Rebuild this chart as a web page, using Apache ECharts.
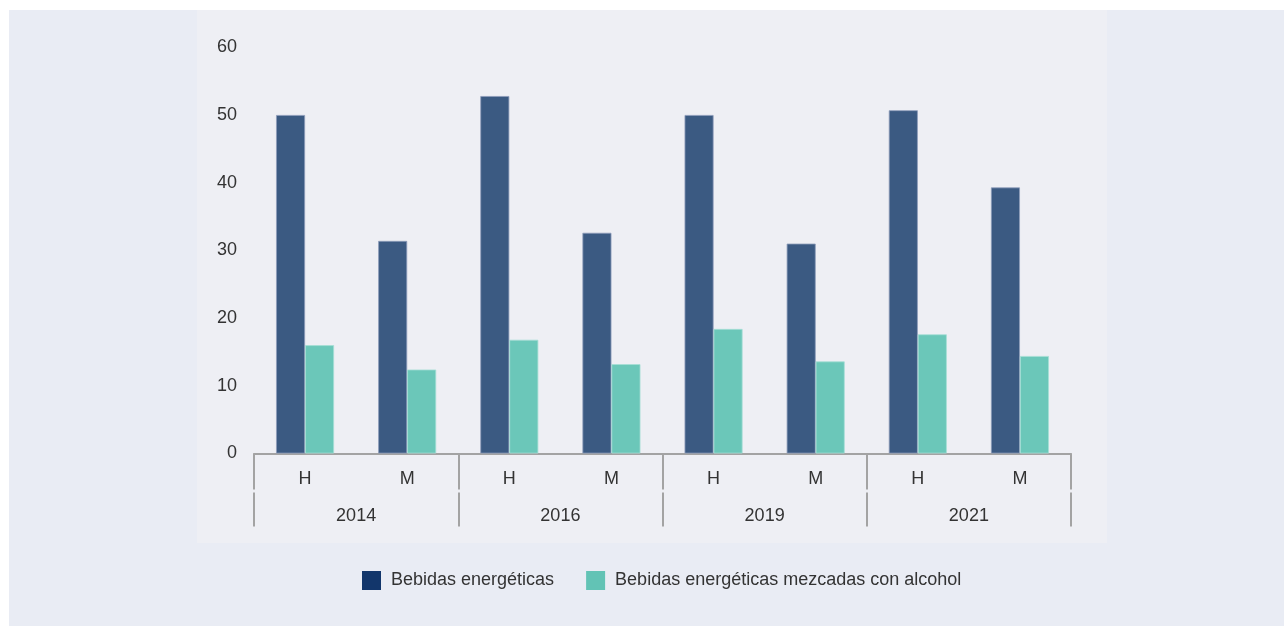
<!DOCTYPE html>
<html>
<head>
<meta charset="utf-8">
<script src="https://cdn.jsdelivr.net/npm/echarts@6/dist/echarts.min.js"></script>
<style>
html,body{margin:0;padding:0;background:#ffffff;}
#chart{width:1284px;height:626px;}
</style>
</head>
<body>
<div id="chart"></div>
<script>
const sexes = ['H','M','H','M','H','M','H','M'];
const years = ['2014','2016','2019','2021'];
const yTicks = [0,10,20,30,40,50,60];
const energeticas = [50.0, 31.4, 52.8, 32.6, 50.0, 31.0, 50.7, 39.3];
const mezcladas = [16.0, 12.4, 16.8, 13.2, 18.4, 13.6, 17.6, 14.4];
const seriesNames = ['Bebidas energéticas','Bebidas energéticas mezcadas con alcohol'];

const chart = echarts.init(document.getElementById('chart'), null, {renderer:'canvas'});
const textColor = '#333333';
const font = 'Liberation Sans, Arial, Helvetica, sans-serif';
const axisGray = '#a3a3a3';
const fs = 18;

chart.setOption({
  animation:false,
  backgroundColor:'#ffffff',
  textStyle:{fontFamily:font},
  graphic:[
    {type:'rect', z:-10, silent:true, shape:{x:9,y:10,width:1275,height:616}, style:{fill:'#e9ecf4'}},
    {type:'rect', z:-9, silent:true, shape:{x:197,y:10,width:910,height:533}, style:{fill:'#eeeff4'}}
  ],
  legend:{
    left:357, top:566,
    itemWidth:19, itemHeight:19, itemGap:32,
    icon:'rect',
    textStyle:{fontSize:fs, color:textColor, fontFamily:font, padding:[2,0,0,5]},
    data:[
      {name:seriesNames[0], itemStyle:{color:'#12366b', borderWidth:0}},
      {name:seriesNames[1], itemStyle:{color:'#62c3b5', borderWidth:0}}
    ]
  },
  grid:{left:254, right:213, top:47.3, bottom:172.5, containLabel:false},
  yAxis:{
    type:'value', min:0, max:60, interval:10,
    axisLine:{show:false}, axisTick:{show:false}, splitLine:{show:false},
    axisLabel:{fontSize:fs, color:textColor, margin:17, fontFamily:font, padding:[2,0,0,0],
      formatter:function(v){return yTicks.indexOf(v)>=0 ? String(v) : '';}}
  },
  xAxis:[
    {
      type:'category', data:sexes, position:'bottom', boundaryGap:true,
      axisLine:{show:true, lineStyle:{color:axisGray, width:2}},
      axisTick:{show:false},
      axisLabel:{fontSize:fs, color:textColor, margin:17, fontFamily:font}
    },
    {
      type:'category', data:years, position:'bottom', offset:0, boundaryGap:true,
      axisLine:{show:false},
      axisTick:{show:true, length:36, lineStyle:{color:axisGray, width:2}},
      axisLabel:{show:false}
    },
    {
      type:'category', data:years, position:'bottom', offset:39, boundaryGap:true,
      axisLine:{show:false},
      axisTick:{show:true, length:34, lineStyle:{color:axisGray, width:2}},
      axisLabel:{fontSize:fs, color:textColor, margin:15, fontFamily:font}
    }
  ],
  series:[
    {
      name:seriesNames[0], type:'bar', xAxisIndex:0, data:energeticas,
      barWidth:29, barGap:'0%',
      itemStyle:{color:'#3b5a82', borderColor:'#8d9cba', borderWidth:0.8}
    },
    {
      name:seriesNames[1], type:'bar', xAxisIndex:0, data:mezcladas,
      barWidth:29, barGap:'0%',
      itemStyle:{color:'#6bc7b9', borderColor:'#a6ded5', borderWidth:0.8}
    }
  ]
});
</script>
</body>
</html>
